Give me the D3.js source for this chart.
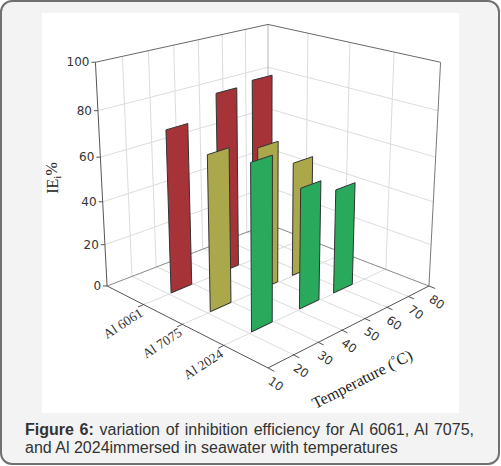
<!DOCTYPE html>
<html>
<head>
<meta charset="utf-8">
<script src="https://d3js.org/d3.v7.min.js"></script>
<style>
  body { margin: 0; background: #fff; }
</style>
</head>
<body>
<svg width="501" height="466"></svg>
<script>
  // data
  const alloys = ["Al 6061", "Al 7075", "Al 2024"];
  const temps = [25, 45, 60];
  const ie6061 = [74, 83.5, 85];
  const ie7075 = [69.5, 65.5, 53.5];
  const ie2024 = [72.5, 54.5, 48];
  const tempTicks = [10, 20, 30, 40, 50, 60, 70, 80];
  const ieTicks = [0, 20, 40, 60, 80, 100];
  const barColors = ["#a53337", "#aaa84a", "#28a95b"];

  const svg = d3.select("svg");

  // frame + plot area
  svg.append("rect")
    .attr("x", 1).attr("y", 1).attr("width", 498).attr("height", 463)
    .attr("rx", 11).attr("fill", "#f2f3f2")
    .attr("stroke", "#707070").attr("stroke-width", 2);
  svg.append("rect")
    .attr("x", 42).attr("y", 13).attr("width", 417).attr("height", 400)
    .attr("fill", "#fff");

  // 3d projection: box is x (temperature) -1..1, z (alloy) -1..1, y up 0..H
  const H = 1.98;
  const cx = 268, cy = 286, k = 113.8, D = 9.15, px = 0.7;
  const phi = 26 * Math.PI / 180;
  const sinP = Math.sin(phi), cosP = Math.cos(phi);

  function proj(X, Y, Z) {
    const u = (X + Z) / Math.SQRT2;
    const w = (Z - X) / Math.SQRT2;
    const v = Y * cosP - w * sinP;
    const zp = w * cosP + Y * sinP;
    const s = D / (D - zp);
    return [cx + k * u * Math.pow(s, px), cy - k * v * s];
  }

  const xT = d3.scaleLinear().domain([10, 80]).range([-1, 1]);
  const zC = d3.scalePoint().domain(alloys).range([-1, 1]).padding(1);
  const yV = d3.scaleLinear().domain([0, 100]).range([0, H]);

  const line3 = (a, b, color, width) => {
    const p = proj(...a), q = proj(...b);
    svg.append("line")
      .attr("x1", p[0]).attr("y1", p[1]).attr("x2", q[0]).attr("y2", q[1])
      .attr("stroke", color).attr("stroke-width", width || 1);
  };

  const grid = "#dcdcdc";
  const inner = tempTicks.slice(1, -1);
  const innerIE = ieTicks.slice(1, -1);

  // back-left wall (z = -1)
  inner.forEach(t => line3([xT(t), 0, -1], [xT(t), H, -1], grid));
  innerIE.forEach(v => line3([-1, yV(v), -1], [1, yV(v), -1], grid));
  // back-right wall (x = 1)
  alloys.forEach(a => line3([1, 0, zC(a)], [1, H, zC(a)], grid));
  innerIE.forEach(v => line3([1, yV(v), -1], [1, yV(v), 1], grid));
  // floor
  inner.forEach(t => line3([xT(t), 0, -1], [xT(t), 0, 1], grid));
  alloys.forEach(a => line3([-1, 0, zC(a)], [1, 0, zC(a)], grid));

  // box edges
  line3([1, 0, -1], [1, H, -1], "#b5b5b5");
  line3([-1, 0, -1], [1, 0, -1], "#8a8a8a");
  line3([1, 0, -1], [1, 0, 1], "#8a8a8a");
  line3([-1, H, -1], [1, H, -1], "#6a6a6a");
  line3([1, H, -1], [1, H, 1], "#6a6a6a");
  line3([1, 0, 1], [1, H, 1], "#7a7a7a");
  line3([-1, 0, -1], [-1, H, -1], "#555");
  line3([-1, 0, -1], [-1, 0, 1], "#555");
  line3([-1, 0, 1], [1, 0, 1], "#555");

  // bars as flat panels, drawn back to front
  const series = [ie6061, ie7075, ie2024];
  const half = 4.25;
  const bars = alloys.flatMap((a, i) => temps.map((t, j) => ({
    alloy: a, t: t, v: series[i][j], color: barColors[i]
  })));
  bars.forEach(d => { d.depth = (zC(d.alloy) - xT(d.t)) / Math.SQRT2; });
  bars.sort((a, b) => a.depth - b.depth);

  svg.selectAll(".bar")
    .data(bars)
    .enter().append("polygon")
    .attr("class", "bar")
    .attr("points", d => {
      const z = zC(d.alloy), x0 = xT(d.t - half), x1 = xT(d.t + half), y = yV(d.v);
      return [proj(x0, 0, z), proj(x1, 0, z), proj(x1, y, z), proj(x0, y, z)]
        .map(p => p.join(",")).join(" ");
    })
    .attr("fill", d => d.color)
    .attr("stroke", "#333")
    .attr("stroke-width", 1)
    .attr("stroke-linejoin", "round");

  const numFont = "DejaVu Sans, Verdana, sans-serif";

  // IE axis ticks + labels
  ieTicks.forEach(v => {
    const p = proj(-1, yV(v), -1);
    svg.append("line")
      .attr("x1", p[0] - 4).attr("y1", p[1]).attr("x2", p[0]).attr("y2", p[1])
      .attr("stroke", "#555");
    svg.append("text")
      .attr("x", p[0] - 6).attr("y", p[1])
      .attr("dy", "0.35em")
      .attr("text-anchor", "end")
      .attr("font-family", numFont)
      .attr("font-size", 12)
      .attr("fill", "#333")
      .text(v);
  });

  // alloy axis
  alloys.forEach(a => {
    line3([-1, 0, zC(a)], [-1.07, 0, zC(a)], "#555");
    const p = proj(-1, 0, zC(a));
    svg.append("text")
      .attr("transform", `translate(${p[0] - 3},${p[1] + 7}) rotate(-33)`)
      .attr("dy", "0.35em")
      .attr("text-anchor", "end")
      .attr("font-family", "Liberation Serif, Times New Roman, serif")
      .attr("font-size", 13.5)
      .attr("fill", "#333")
      .text(a);
  });

  // temperature axis
  tempTicks.forEach(t => {
    line3([xT(t), 0, 1], [xT(t), 0, 1.07], "#555");
    const p = proj(xT(t), 0, 1);
    svg.append("text")
      .attr("transform", `translate(${p[0] + 8},${p[1] + 16}) rotate(35)`)
      .attr("dy", "0.35em")
      .attr("text-anchor", "middle")
      .attr("font-family", numFont)
      .attr("font-size", 12)
      .attr("fill", "#333")
      .text(t);
  });

  // axis titles
  const yTitle = svg.append("text")
    .attr("transform", "translate(52,178) rotate(-90)")
    .attr("dy", "0.35em")
    .attr("text-anchor", "middle")
    .attr("font-family", "Liberation Serif, Times New Roman, serif")
    .attr("font-size", 16)
    .attr("fill", "#222");
  yTitle.append("tspan").text("IE");
  yTitle.append("tspan").attr("font-size", 11).attr("dy", "0.35em").text("i");
  yTitle.append("tspan").attr("dy", "-0.25em").text("%");

  const xTitle = svg.append("text")
    .attr("transform", "translate(362,379) rotate(-27)")
    .attr("dy", "0.35em")
    .attr("text-anchor", "middle")
    .attr("font-family", "Liberation Serif, Times New Roman, serif")
    .attr("font-size", 16)
    .attr("fill", "#222");
  xTitle.append("tspan").text("Temperature (");
  xTitle.append("tspan").attr("font-size", 11).attr("dy", "-0.45em").text("°");
  xTitle.append("tspan").attr("dy", "0.3em").text("C)");

  // caption
  const capFont = "Liberation Sans, Arial, sans-serif";
  const cap1 = svg.append("text")
    .attr("x", 25).attr("y", 435)
    .attr("font-family", capFont).attr("font-size", 16).attr("fill", "#333");
  cap1.append("tspan").attr("font-weight", "bold").text("Figure 6:");
  cap1.append("tspan").text(" variation of inhibition efficiency for Al 6061, Al 7075,");
  const natural = cap1.node().getComputedTextLength();
  const spaces = ("Figure 6: variation of inhibition efficiency for Al 6061, Al 7075,").split(" ").length - 1;
  cap1.attr("word-spacing", (474 - 25 - natural) / spaces);

  svg.append("text")
    .attr("x", 25).attr("y", 453)
    .attr("font-family", capFont).attr("font-size", 16).attr("fill", "#333")
    .text("and Al 2024immersed in seawater with temperatures");
</script>
</body>
</html>
